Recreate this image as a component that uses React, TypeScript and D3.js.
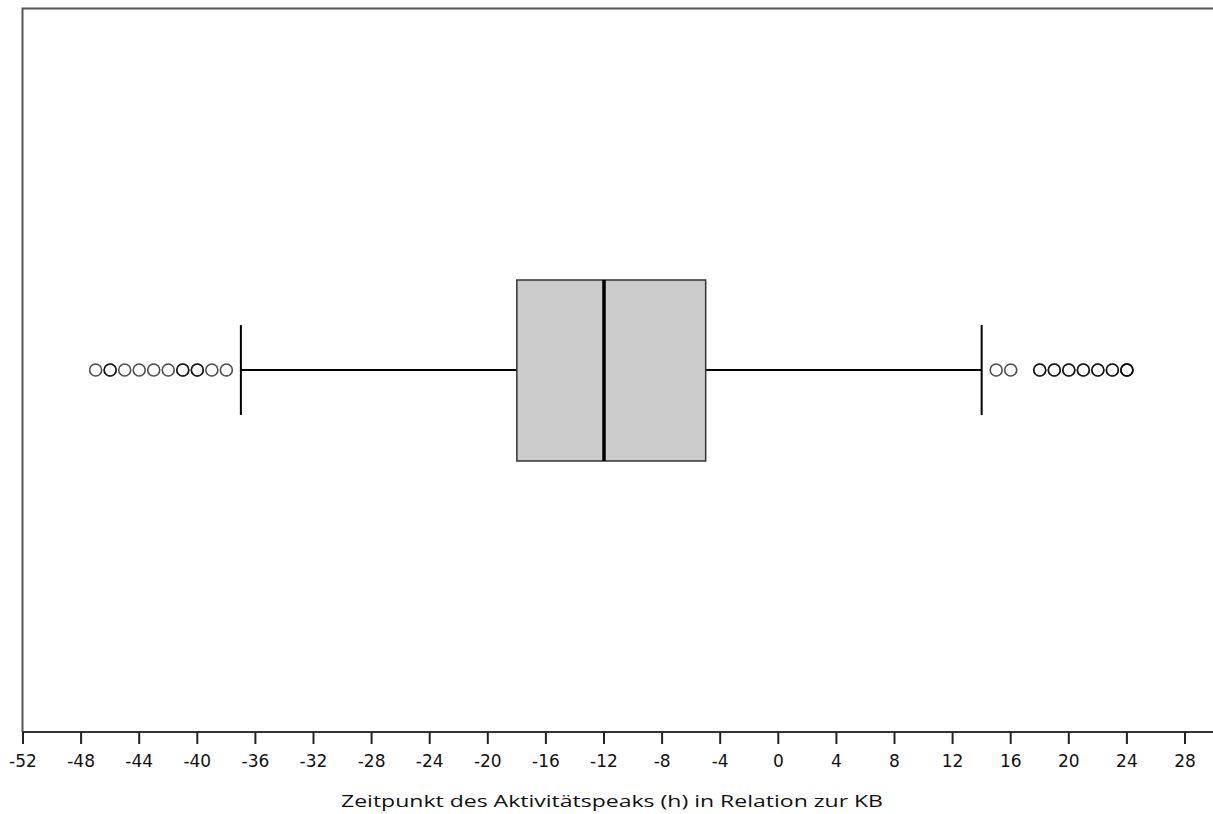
import React from 'react';
import * as d3 from 'd3';

// Box plot summary (hours relative to KB)
const whiskerLow = -37;
const q1 = -18;
const median = -12;
const q3 = -5;
const whiskerHigh = 14;

// outliers; repeated values are drawn on top of each other
const outliersLow = [-47, -46, -46, -45, -44, -43, -42, -41, -41, -40, -40, -39, -38];
const outliersHigh = [15, 16, 18, 18, 19, 19, 20, 20, 21, 21, 22, 22, 23, 23, 24, 24, 24];

const tickValues = [-52, -48, -44, -40, -36, -32, -28, -24, -20, -16, -12, -8, -4, 0, 4, 8, 12, 16, 20, 24, 28];
const axisTitle = 'Zeitpunkt des Aktivitätspeaks (h) in Relation zur KB';

const App = () => {
    const width = 1213;
    const height = 814;
    const left = 22.5;
    const top = 8.5;
    const axisY = 732;
    const midY = 370;

    const x = d3.scaleLinear().domain([-52, 28]).range([23, 1185]);

    const boxTop = 280;
    const boxBottom = 461;
    const capHalf = 45;

    return (
        <svg width={width} height={height} style={{ position: 'absolute', left: 0, top: 0, background: '#fff' }}>
            {/* frame */}
            <path d={`M${left},${axisY} V${top} H${width}`} fill="none" stroke="#555" strokeWidth={2} />
            <line x1={left} x2={width} y1={axisY} y2={axisY} stroke="#333" strokeWidth={2} />

            {/* ticks */}
            {tickValues.map(t => (
                <g key={t} transform={`translate(${x(t)},0)`}>
                    <line y1={axisY} y2={axisY + 12} stroke="#222" strokeWidth={2} />
                    <text y={767} textAnchor="middle" fontFamily="DejaVu Sans" fontSize={17} fill="#111">{t}</text>
                </g>
            ))}
            <text x={612} y={807} textAnchor="middle" fontFamily="Open Sans" fontSize={16} fill="#111"
                textLength={542} lengthAdjust="spacingAndGlyphs">{axisTitle}</text>

            {/* whiskers */}
            <line x1={x(whiskerLow)} x2={x(q1)} y1={midY} y2={midY} stroke="#000" strokeWidth={2} />
            <line x1={x(q3)} x2={x(whiskerHigh)} y1={midY} y2={midY} stroke="#000" strokeWidth={2} />
            <line x1={x(whiskerLow)} x2={x(whiskerLow)} y1={midY - capHalf} y2={midY + capHalf} stroke="#000" strokeWidth={2} />
            <line x1={x(whiskerHigh)} x2={x(whiskerHigh)} y1={midY - capHalf} y2={midY + capHalf} stroke="#000" strokeWidth={2} />

            {/* box */}
            <rect x={x(q1)} y={boxTop} width={x(q3) - x(q1)} height={boxBottom - boxTop}
                fill="#cccccc" stroke="#333" strokeWidth={1.5} />
            <line x1={x(median)} x2={x(median)} y1={boxTop} y2={boxBottom} stroke="#000" strokeWidth={3.5} />

            {/* outliers */}
            {[...outliersLow, ...outliersHigh].map((v, i) => (
                <circle key={i} cx={x(v)} cy={midY} r={6} fill="none" stroke="#000" strokeWidth={1.6} strokeOpacity={0.7} />
            ))}
        </svg>
    );
};

export default App;
